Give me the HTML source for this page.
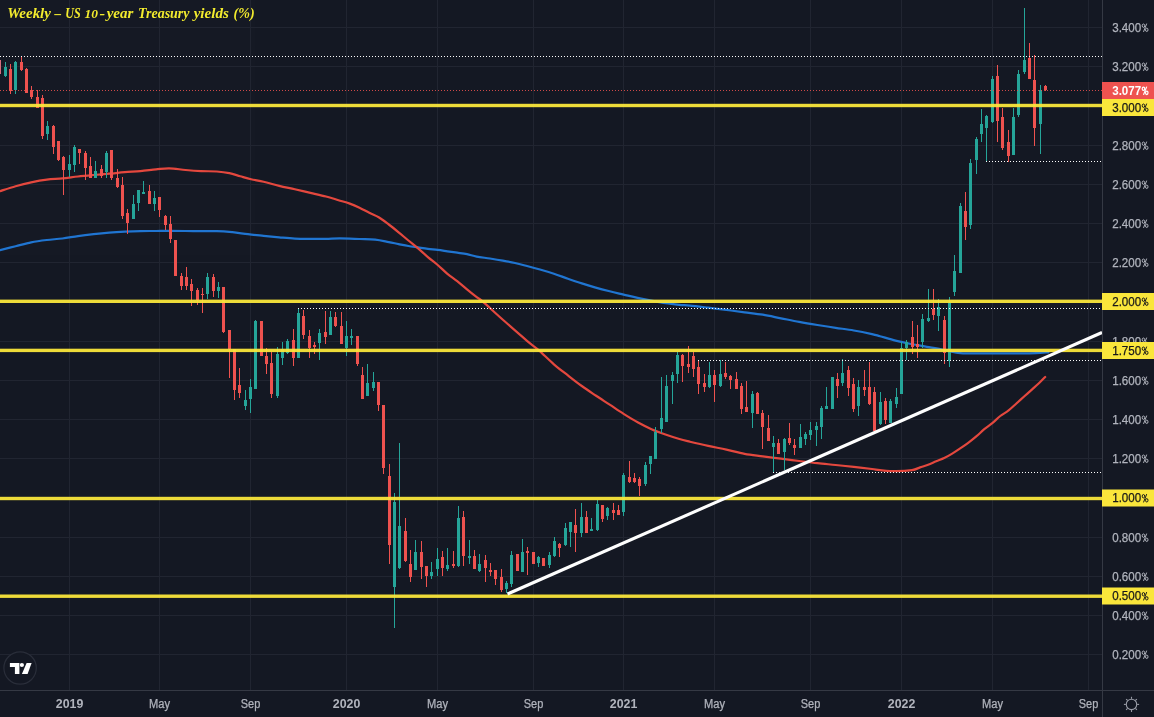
<!DOCTYPE html><html><head><meta charset="utf-8"><title>Chart</title>
<style>html,body{margin:0;padding:0;background:#151924;overflow:hidden}svg{display:block;will-change:transform;opacity:0.999}text{font-family:"Liberation Sans",sans-serif}.ttl text{font-family:"Liberation Serif",serif}</style></head><body>
<svg width="1154" height="717" viewBox="0 0 1154 717">
<rect width="1154" height="717" fill="#151924"/>
<g shape-rendering="crispEdges" fill="#222632">
<rect x="0" y="27" width="1102" height="1"/>
<rect x="0" y="66" width="1102" height="1"/>
<rect x="0" y="105" width="1102" height="1"/>
<rect x="0" y="145" width="1102" height="1"/>
<rect x="0" y="184" width="1102" height="1"/>
<rect x="0" y="223" width="1102" height="1"/>
<rect x="0" y="262" width="1102" height="1"/>
<rect x="0" y="301" width="1102" height="1"/>
<rect x="0" y="341" width="1102" height="1"/>
<rect x="0" y="380" width="1102" height="1"/>
<rect x="0" y="419" width="1102" height="1"/>
<rect x="0" y="458" width="1102" height="1"/>
<rect x="0" y="497" width="1102" height="1"/>
<rect x="0" y="537" width="1102" height="1"/>
<rect x="0" y="576" width="1102" height="1"/>
<rect x="0" y="615" width="1102" height="1"/>
<rect x="0" y="654" width="1102" height="1"/>
<rect x="69" y="0" width="1" height="690"/>
<rect x="159" y="0" width="1" height="690"/>
<rect x="250" y="0" width="1" height="690"/>
<rect x="346" y="0" width="1" height="690"/>
<rect x="437" y="0" width="1" height="690"/>
<rect x="533" y="0" width="1" height="690"/>
<rect x="623" y="0" width="1" height="690"/>
<rect x="714" y="0" width="1" height="690"/>
<rect x="810" y="0" width="1" height="690"/>
<rect x="901" y="0" width="1" height="690"/>
<rect x="992" y="0" width="1" height="690"/>
<rect x="1088" y="0" width="1" height="690"/>
</g>
<path d="M0.00 250.10 C2.60 249.45 10.40 247.50 15.60 246.20 C20.80 244.90 26.00 243.33 31.20 242.30 C36.40 241.27 41.60 240.63 46.80 240.00 C52.00 239.37 57.20 239.15 62.40 238.50 C67.60 237.85 72.80 236.82 78.00 236.10 C83.20 235.38 88.40 234.77 93.60 234.20 C98.80 233.63 104.00 233.12 109.20 232.70 C114.40 232.28 119.60 231.97 124.80 231.70 C130.00 231.43 135.20 231.22 140.40 231.10 C145.60 230.98 151.07 231.05 156.00 231.00 C160.93 230.95 163.77 230.78 170.00 230.80 C176.23 230.82 185.60 231.05 193.40 231.10 C201.20 231.15 210.30 230.92 216.80 231.10 C223.30 231.28 227.20 231.68 232.40 232.20 C237.60 232.72 242.80 233.60 248.00 234.20 C253.20 234.80 258.40 235.28 263.60 235.80 C268.80 236.32 274.00 236.83 279.20 237.30 C284.40 237.77 289.60 238.33 294.80 238.60 C300.00 238.87 305.20 238.85 310.40 238.90 C315.60 238.95 321.07 238.98 326.00 238.90 C330.93 238.82 334.42 238.38 340.00 238.40 C345.58 238.42 353.63 238.80 359.50 239.00 C365.37 239.20 370.32 239.08 375.20 239.60 C380.08 240.12 384.90 241.35 388.80 242.10 C392.70 242.85 395.33 243.45 398.60 244.10 C401.87 244.75 405.15 245.45 408.40 246.00 C411.65 246.55 414.85 246.93 418.10 247.40 C421.35 247.87 424.63 248.38 427.90 248.80 C431.17 249.22 434.45 249.48 437.70 249.90 C440.95 250.32 444.15 250.83 447.40 251.30 C450.65 251.77 453.93 252.22 457.20 252.70 C460.47 253.18 463.75 253.55 467.00 254.20 C470.25 254.85 472.87 255.88 476.70 256.60 C480.53 257.32 485.65 257.83 490.00 258.50 C494.35 259.17 498.63 259.85 502.80 260.60 C506.97 261.35 510.97 262.10 515.00 263.00 C519.03 263.90 522.83 264.92 527.00 266.00 C531.17 267.08 535.52 268.22 540.00 269.50 C544.48 270.78 549.25 272.17 553.90 273.70 C558.55 275.23 563.25 277.08 567.90 278.70 C572.55 280.32 577.17 281.92 581.80 283.40 C586.43 284.88 591.05 286.28 595.70 287.60 C600.35 288.92 605.05 290.13 609.70 291.30 C614.35 292.47 618.95 293.50 623.60 294.60 C628.25 295.70 632.95 296.88 637.60 297.90 C642.25 298.92 646.87 299.82 651.50 300.70 C656.13 301.58 660.75 302.52 665.40 303.20 C670.05 303.88 675.30 304.40 679.40 304.80 C683.50 305.20 685.20 305.12 690.00 305.60 C694.80 306.08 702.13 306.98 708.20 307.70 C714.27 308.42 720.33 309.13 726.40 309.90 C732.47 310.67 738.53 311.50 744.60 312.30 C750.67 313.10 756.73 313.70 762.80 314.70 C768.87 315.70 774.93 317.10 781.00 318.30 C787.07 319.50 793.13 320.78 799.20 321.90 C805.27 323.02 811.33 324.02 817.40 325.00 C823.47 325.98 829.53 326.88 835.60 327.80 C841.67 328.72 847.73 329.45 853.80 330.50 C859.87 331.55 867.63 333.15 872.00 334.10 C876.37 335.05 876.07 335.12 880.00 336.20 C883.93 337.28 890.40 339.30 895.60 340.60 C900.80 341.90 906.00 342.97 911.20 344.00 C916.40 345.03 921.60 345.87 926.80 346.80 C932.00 347.73 937.20 348.60 942.40 349.60 C947.60 350.60 952.80 352.17 958.00 352.80 C963.20 353.43 968.40 353.30 973.60 353.40 C978.80 353.50 984.00 353.40 989.20 353.40 C994.40 353.40 999.60 353.40 1004.80 353.40 C1010.00 353.40 1015.20 353.45 1020.40 353.40 C1025.60 353.35 1031.32 353.28 1036.00 353.10 C1040.68 352.92 1046.42 352.43 1048.50 352.30" fill="none" stroke="#2176d2" stroke-width="2.2" stroke-linejoin="round" stroke-linecap="round"/>
<path d="M0.00 191.20 C2.60 190.37 10.40 187.68 15.60 186.20 C20.80 184.72 26.00 183.40 31.20 182.30 C36.40 181.20 41.60 180.25 46.80 179.60 C52.00 178.95 57.20 178.92 62.40 178.40 C67.60 177.88 72.80 177.07 78.00 176.50 C83.20 175.93 88.40 175.47 93.60 175.00 C98.80 174.53 104.00 174.17 109.20 173.70 C114.40 173.23 119.60 172.63 124.80 172.20 C130.00 171.77 135.20 171.57 140.40 171.10 C145.60 170.63 151.20 169.87 156.00 169.40 C160.80 168.93 164.27 168.20 169.20 168.30 C174.13 168.40 180.27 169.53 185.60 170.00 C190.93 170.47 196.00 170.85 201.20 171.10 C206.40 171.35 212.12 171.17 216.80 171.50 C221.48 171.83 225.40 172.32 229.30 173.10 C233.20 173.88 236.57 175.18 240.20 176.20 C243.83 177.22 247.20 178.28 251.10 179.20 C255.00 180.12 258.92 180.58 263.60 181.70 C268.28 182.82 274.00 184.63 279.20 185.90 C284.40 187.17 289.60 188.13 294.80 189.30 C300.00 190.47 305.20 191.70 310.40 192.90 C315.60 194.10 321.32 195.28 326.00 196.50 C330.68 197.72 334.53 199.02 338.50 200.20 C342.47 201.38 346.30 202.35 349.80 203.60 C353.30 204.85 356.25 206.17 359.50 207.70 C362.75 209.23 366.03 211.17 369.30 212.80 C372.57 214.43 375.85 215.55 379.10 217.50 C382.35 219.45 385.55 222.03 388.80 224.50 C392.05 226.97 395.33 229.63 398.60 232.30 C401.87 234.97 405.15 237.82 408.40 240.50 C411.65 243.18 414.85 245.63 418.10 248.40 C421.35 251.17 424.63 254.33 427.90 257.10 C431.17 259.87 434.45 262.22 437.70 265.00 C440.95 267.78 444.15 271.10 447.40 273.80 C450.65 276.50 453.93 278.60 457.20 281.20 C460.47 283.80 463.75 286.73 467.00 289.40 C470.25 292.07 474.15 295.23 476.70 297.20 C479.25 299.17 477.65 297.18 482.30 301.20 C486.95 305.22 497.15 314.70 504.60 321.30 C512.05 327.90 521.42 336.07 527.00 340.80 C532.58 345.53 533.62 345.78 538.10 349.70 C542.58 353.62 548.93 360.02 553.90 364.30 C558.87 368.58 563.25 371.78 567.90 375.40 C572.55 379.02 577.17 382.65 581.80 386.00 C586.43 389.35 591.05 392.38 595.70 395.50 C600.35 398.62 605.05 401.63 609.70 404.70 C614.35 407.77 618.95 410.97 623.60 413.90 C628.25 416.83 632.95 419.75 637.60 422.30 C642.25 424.85 646.87 427.17 651.50 429.20 C656.13 431.23 660.75 432.87 665.40 434.50 C670.05 436.13 675.30 437.80 679.40 439.00 C683.50 440.20 685.20 440.55 690.00 441.70 C694.80 442.85 702.13 444.58 708.20 445.90 C714.27 447.22 720.33 448.28 726.40 449.60 C732.47 450.92 738.53 452.68 744.60 453.80 C750.67 454.92 756.73 455.48 762.80 456.30 C768.87 457.12 774.93 457.92 781.00 458.70 C787.07 459.48 793.13 460.25 799.20 461.00 C805.27 461.75 811.33 462.53 817.40 463.20 C823.47 463.87 829.53 464.38 835.60 465.00 C841.67 465.62 847.73 466.23 853.80 466.90 C859.87 467.57 867.63 468.47 872.00 469.00 C876.37 469.53 876.00 469.73 880.00 470.10 C884.00 470.47 890.65 471.20 896.00 471.20 C901.35 471.20 908.08 470.73 912.10 470.10 C916.12 469.47 917.43 468.28 920.10 467.40 C922.77 466.52 925.42 465.82 928.10 464.80 C930.78 463.78 933.52 462.42 936.20 461.30 C938.88 460.18 941.53 459.38 944.20 458.10 C946.87 456.82 949.53 455.22 952.20 453.60 C954.87 451.98 957.53 450.20 960.20 448.40 C962.87 446.60 965.52 444.80 968.20 442.80 C970.88 440.80 973.62 438.67 976.30 436.40 C978.98 434.13 981.63 431.42 984.30 429.20 C986.97 426.98 989.63 425.30 992.30 423.10 C994.97 420.90 997.63 418.07 1000.30 416.00 C1002.97 413.93 1005.62 412.78 1008.30 410.70 C1010.98 408.62 1013.72 405.90 1016.40 403.50 C1019.08 401.10 1021.73 398.70 1024.40 396.30 C1027.07 393.90 1029.73 391.52 1032.40 389.10 C1035.07 386.68 1038.27 383.82 1040.40 381.80 C1042.53 379.78 1044.40 377.80 1045.20 377.00" fill="none" stroke="#e5493f" stroke-width="2.2" stroke-linejoin="round" stroke-linecap="round"/>
<g shape-rendering="crispEdges">
<rect x="-1" y="58" width="1" height="17" fill="#d96f7d"/>
<rect x="-2" y="60" width="3" height="14" fill="#d96f7d"/>
<rect x="5" y="62" width="1" height="15" fill="#26a69a"/>
<rect x="4" y="67" width="3" height="9" fill="#26a69a"/>
<rect x="10" y="64" width="1" height="30" fill="#ef5350"/>
<rect x="9" y="69" width="3" height="22" fill="#ef5350"/>
<rect x="15" y="61" width="1" height="33" fill="#26a69a"/>
<rect x="14" y="62" width="3" height="28" fill="#26a69a"/>
<rect x="21" y="56" width="1" height="15" fill="#ef5350"/>
<rect x="20" y="62" width="3" height="8" fill="#ef5350"/>
<rect x="26" y="68" width="1" height="25" fill="#ef5350"/>
<rect x="25" y="69" width="3" height="24" fill="#ef5350"/>
<rect x="31" y="86" width="1" height="13" fill="#ef5350"/>
<rect x="30" y="90" width="3" height="7" fill="#ef5350"/>
<rect x="37" y="90" width="1" height="18" fill="#ef5350"/>
<rect x="36" y="97" width="3" height="11" fill="#ef5350"/>
<rect x="42" y="95" width="1" height="44" fill="#ef5350"/>
<rect x="41" y="98" width="3" height="38" fill="#ef5350"/>
<rect x="47" y="121" width="1" height="19" fill="#26a69a"/>
<rect x="46" y="126" width="3" height="8" fill="#26a69a"/>
<rect x="53" y="125" width="1" height="29" fill="#ef5350"/>
<rect x="52" y="126" width="3" height="21" fill="#ef5350"/>
<rect x="58" y="141" width="1" height="20" fill="#ef5350"/>
<rect x="57" y="141" width="3" height="19" fill="#ef5350"/>
<rect x="63" y="156" width="1" height="39" fill="#ef5350"/>
<rect x="62" y="157" width="3" height="13" fill="#ef5350"/>
<rect x="69" y="155" width="1" height="22" fill="#26a69a"/>
<rect x="68" y="164" width="3" height="6" fill="#26a69a"/>
<rect x="74" y="145" width="1" height="27" fill="#26a69a"/>
<rect x="73" y="147" width="3" height="18" fill="#26a69a"/>
<rect x="79" y="149" width="1" height="15" fill="#ef5350"/>
<rect x="78" y="149" width="3" height="4" fill="#ef5350"/>
<rect x="85" y="151" width="1" height="29" fill="#ef5350"/>
<rect x="84" y="153" width="3" height="15" fill="#ef5350"/>
<rect x="90" y="157" width="1" height="21" fill="#ef5350"/>
<rect x="89" y="166" width="3" height="12" fill="#ef5350"/>
<rect x="95" y="161" width="1" height="17" fill="#26a69a"/>
<rect x="94" y="171" width="3" height="7" fill="#26a69a"/>
<rect x="101" y="165" width="1" height="13" fill="#ef5350"/>
<rect x="100" y="169" width="3" height="7" fill="#ef5350"/>
<rect x="106" y="151" width="1" height="27" fill="#26a69a"/>
<rect x="105" y="153" width="3" height="19" fill="#26a69a"/>
<rect x="111" y="150" width="1" height="30" fill="#ef5350"/>
<rect x="110" y="150" width="3" height="28" fill="#ef5350"/>
<rect x="117" y="169" width="1" height="19" fill="#ef5350"/>
<rect x="116" y="178" width="3" height="9" fill="#ef5350"/>
<rect x="122" y="177" width="1" height="42" fill="#ef5350"/>
<rect x="121" y="185" width="3" height="31" fill="#ef5350"/>
<rect x="127" y="209" width="1" height="25" fill="#ef5350"/>
<rect x="126" y="213" width="3" height="10" fill="#ef5350"/>
<rect x="133" y="195" width="1" height="24" fill="#26a69a"/>
<rect x="132" y="204" width="3" height="15" fill="#26a69a"/>
<rect x="138" y="190" width="1" height="21" fill="#26a69a"/>
<rect x="137" y="190" width="3" height="13" fill="#26a69a"/>
<rect x="143" y="181" width="1" height="13" fill="#26a69a"/>
<rect x="142" y="192" width="3" height="2" fill="#26a69a"/>
<rect x="149" y="185" width="1" height="19" fill="#ef5350"/>
<rect x="148" y="191" width="3" height="13" fill="#ef5350"/>
<rect x="154" y="191" width="1" height="20" fill="#26a69a"/>
<rect x="153" y="198" width="3" height="6" fill="#26a69a"/>
<rect x="159" y="197" width="1" height="20" fill="#ef5350"/>
<rect x="158" y="197" width="3" height="13" fill="#ef5350"/>
<rect x="165" y="215" width="1" height="15" fill="#ef5350"/>
<rect x="164" y="216" width="3" height="9" fill="#ef5350"/>
<rect x="170" y="216" width="1" height="27" fill="#ef5350"/>
<rect x="169" y="224" width="3" height="15" fill="#ef5350"/>
<rect x="175" y="240" width="1" height="36" fill="#ef5350"/>
<rect x="174" y="240" width="3" height="36" fill="#ef5350"/>
<rect x="181" y="273" width="1" height="17" fill="#ef5350"/>
<rect x="180" y="276" width="3" height="10" fill="#ef5350"/>
<rect x="186" y="267" width="1" height="23" fill="#ef5350"/>
<rect x="185" y="277" width="3" height="9" fill="#ef5350"/>
<rect x="191" y="279" width="1" height="27" fill="#ef5350"/>
<rect x="190" y="284" width="3" height="7" fill="#ef5350"/>
<rect x="197" y="288" width="1" height="17" fill="#ef5350"/>
<rect x="196" y="290" width="3" height="10" fill="#ef5350"/>
<rect x="202" y="288" width="1" height="25" fill="#ef5350"/>
<rect x="201" y="294" width="3" height="1" fill="#ef5350"/>
<rect x="207" y="273" width="1" height="26" fill="#26a69a"/>
<rect x="206" y="277" width="3" height="17" fill="#26a69a"/>
<rect x="213" y="274" width="1" height="23" fill="#ef5350"/>
<rect x="212" y="277" width="3" height="14" fill="#ef5350"/>
<rect x="218" y="282" width="1" height="16" fill="#26a69a"/>
<rect x="217" y="287" width="3" height="4" fill="#26a69a"/>
<rect x="223" y="287" width="1" height="46" fill="#ef5350"/>
<rect x="222" y="287" width="3" height="45" fill="#ef5350"/>
<rect x="229" y="330" width="1" height="48" fill="#ef5350"/>
<rect x="228" y="330" width="3" height="19" fill="#ef5350"/>
<rect x="234" y="349" width="1" height="51" fill="#ef5350"/>
<rect x="233" y="349" width="3" height="41" fill="#ef5350"/>
<rect x="239" y="368" width="1" height="30" fill="#ef5350"/>
<rect x="238" y="385" width="3" height="8" fill="#ef5350"/>
<rect x="245" y="390" width="1" height="20" fill="#26a69a"/>
<rect x="244" y="400" width="3" height="6" fill="#26a69a"/>
<rect x="250" y="379" width="1" height="34" fill="#26a69a"/>
<rect x="249" y="387" width="3" height="12" fill="#26a69a"/>
<rect x="255" y="320" width="1" height="69" fill="#26a69a"/>
<rect x="254" y="321" width="3" height="68" fill="#26a69a"/>
<rect x="261" y="321" width="1" height="35" fill="#ef5350"/>
<rect x="260" y="321" width="3" height="35" fill="#ef5350"/>
<rect x="266" y="348" width="1" height="26" fill="#ef5350"/>
<rect x="265" y="356" width="3" height="8" fill="#ef5350"/>
<rect x="271" y="352" width="1" height="46" fill="#ef5350"/>
<rect x="270" y="363" width="3" height="31" fill="#ef5350"/>
<rect x="277" y="347" width="1" height="51" fill="#26a69a"/>
<rect x="276" y="354" width="3" height="42" fill="#26a69a"/>
<rect x="282" y="342" width="1" height="23" fill="#26a69a"/>
<rect x="281" y="349" width="3" height="9" fill="#26a69a"/>
<rect x="287" y="339" width="1" height="15" fill="#26a69a"/>
<rect x="286" y="341" width="3" height="12" fill="#26a69a"/>
<rect x="293" y="329" width="1" height="37" fill="#ef5350"/>
<rect x="292" y="340" width="3" height="18" fill="#ef5350"/>
<rect x="298" y="308" width="1" height="50" fill="#26a69a"/>
<rect x="297" y="313" width="3" height="45" fill="#26a69a"/>
<rect x="303" y="310" width="1" height="29" fill="#ef5350"/>
<rect x="302" y="316" width="3" height="19" fill="#ef5350"/>
<rect x="309" y="330" width="1" height="28" fill="#ef5350"/>
<rect x="308" y="336" width="3" height="12" fill="#ef5350"/>
<rect x="314" y="342" width="1" height="12" fill="#ef5350"/>
<rect x="313" y="345" width="3" height="2" fill="#ef5350"/>
<rect x="319" y="329" width="1" height="31" fill="#26a69a"/>
<rect x="318" y="333" width="3" height="10" fill="#26a69a"/>
<rect x="325" y="311" width="1" height="33" fill="#ef5350"/>
<rect x="324" y="332" width="3" height="5" fill="#ef5350"/>
<rect x="330" y="311" width="1" height="24" fill="#26a69a"/>
<rect x="329" y="317" width="3" height="18" fill="#26a69a"/>
<rect x="335" y="312" width="1" height="15" fill="#ef5350"/>
<rect x="334" y="317" width="3" height="9" fill="#ef5350"/>
<rect x="341" y="312" width="1" height="32" fill="#ef5350"/>
<rect x="340" y="326" width="3" height="18" fill="#ef5350"/>
<rect x="346" y="321" width="1" height="35" fill="#26a69a"/>
<rect x="345" y="336" width="3" height="12" fill="#26a69a"/>
<rect x="351" y="329" width="1" height="16" fill="#26a69a"/>
<rect x="350" y="336" width="3" height="2" fill="#26a69a"/>
<rect x="357" y="336" width="1" height="30" fill="#ef5350"/>
<rect x="356" y="336" width="3" height="28" fill="#ef5350"/>
<rect x="362" y="367" width="1" height="32" fill="#ef5350"/>
<rect x="361" y="375" width="3" height="24" fill="#ef5350"/>
<rect x="367" y="364" width="1" height="32" fill="#26a69a"/>
<rect x="366" y="383" width="3" height="13" fill="#26a69a"/>
<rect x="373" y="372" width="1" height="19" fill="#26a69a"/>
<rect x="372" y="382" width="3" height="6" fill="#26a69a"/>
<rect x="378" y="382" width="1" height="29" fill="#ef5350"/>
<rect x="377" y="382" width="3" height="23" fill="#ef5350"/>
<rect x="383" y="405" width="1" height="69" fill="#ef5350"/>
<rect x="382" y="405" width="3" height="63" fill="#ef5350"/>
<rect x="389" y="464" width="1" height="100" fill="#ef5350"/>
<rect x="388" y="476" width="3" height="69" fill="#ef5350"/>
<rect x="394" y="493" width="1" height="135" fill="#26a69a"/>
<rect x="393" y="502" width="3" height="85" fill="#26a69a"/>
<rect x="399" y="443" width="1" height="126" fill="#26a69a"/>
<rect x="398" y="526" width="3" height="42" fill="#26a69a"/>
<rect x="405" y="518" width="1" height="44" fill="#ef5350"/>
<rect x="404" y="531" width="3" height="30" fill="#ef5350"/>
<rect x="410" y="550" width="1" height="32" fill="#ef5350"/>
<rect x="409" y="564" width="3" height="13" fill="#ef5350"/>
<rect x="415" y="540" width="1" height="30" fill="#26a69a"/>
<rect x="414" y="552" width="3" height="18" fill="#26a69a"/>
<rect x="421" y="541" width="1" height="38" fill="#ef5350"/>
<rect x="420" y="552" width="3" height="15" fill="#ef5350"/>
<rect x="426" y="566" width="1" height="21" fill="#ef5350"/>
<rect x="425" y="566" width="3" height="10" fill="#ef5350"/>
<rect x="431" y="562" width="1" height="17" fill="#26a69a"/>
<rect x="430" y="572" width="3" height="4" fill="#26a69a"/>
<rect x="437" y="548" width="1" height="28" fill="#26a69a"/>
<rect x="436" y="559" width="3" height="10" fill="#26a69a"/>
<rect x="442" y="551" width="1" height="25" fill="#ef5350"/>
<rect x="441" y="557" width="3" height="11" fill="#ef5350"/>
<rect x="447" y="548" width="1" height="23" fill="#26a69a"/>
<rect x="446" y="565" width="3" height="4" fill="#26a69a"/>
<rect x="453" y="551" width="1" height="17" fill="#ef5350"/>
<rect x="452" y="564" width="3" height="2" fill="#ef5350"/>
<rect x="458" y="506" width="1" height="61" fill="#26a69a"/>
<rect x="457" y="518" width="3" height="48" fill="#26a69a"/>
<rect x="463" y="511" width="1" height="55" fill="#ef5350"/>
<rect x="462" y="517" width="3" height="39" fill="#ef5350"/>
<rect x="469" y="540" width="1" height="24" fill="#26a69a"/>
<rect x="468" y="556" width="3" height="2" fill="#26a69a"/>
<rect x="474" y="550" width="1" height="19" fill="#ef5350"/>
<rect x="473" y="556" width="3" height="13" fill="#ef5350"/>
<rect x="479" y="554" width="1" height="18" fill="#26a69a"/>
<rect x="478" y="564" width="3" height="7" fill="#26a69a"/>
<rect x="485" y="555" width="1" height="27" fill="#ef5350"/>
<rect x="484" y="560" width="3" height="8" fill="#ef5350"/>
<rect x="490" y="563" width="1" height="13" fill="#ef5350"/>
<rect x="489" y="570" width="3" height="2" fill="#ef5350"/>
<rect x="495" y="570" width="1" height="15" fill="#ef5350"/>
<rect x="494" y="570" width="3" height="9" fill="#ef5350"/>
<rect x="501" y="569" width="1" height="23" fill="#ef5350"/>
<rect x="500" y="577" width="3" height="13" fill="#ef5350"/>
<rect x="506" y="581" width="1" height="12" fill="#26a69a"/>
<rect x="505" y="583" width="3" height="6" fill="#26a69a"/>
<rect x="511" y="551" width="1" height="36" fill="#26a69a"/>
<rect x="510" y="555" width="3" height="29" fill="#26a69a"/>
<rect x="517" y="554" width="1" height="17" fill="#ef5350"/>
<rect x="516" y="554" width="3" height="17" fill="#ef5350"/>
<rect x="522" y="539" width="1" height="33" fill="#26a69a"/>
<rect x="521" y="552" width="3" height="20" fill="#26a69a"/>
<rect x="527" y="547" width="1" height="28" fill="#ef5350"/>
<rect x="526" y="551" width="3" height="2" fill="#ef5350"/>
<rect x="533" y="552" width="1" height="12" fill="#ef5350"/>
<rect x="532" y="552" width="3" height="12" fill="#ef5350"/>
<rect x="538" y="556" width="1" height="11" fill="#26a69a"/>
<rect x="537" y="557" width="3" height="6" fill="#26a69a"/>
<rect x="543" y="558" width="1" height="8" fill="#ef5350"/>
<rect x="542" y="558" width="3" height="8" fill="#ef5350"/>
<rect x="549" y="552" width="1" height="16" fill="#26a69a"/>
<rect x="548" y="555" width="3" height="10" fill="#26a69a"/>
<rect x="554" y="537" width="1" height="20" fill="#26a69a"/>
<rect x="553" y="541" width="3" height="15" fill="#26a69a"/>
<rect x="559" y="543" width="1" height="14" fill="#ef5350"/>
<rect x="558" y="544" width="3" height="4" fill="#ef5350"/>
<rect x="565" y="523" width="1" height="23" fill="#26a69a"/>
<rect x="564" y="528" width="3" height="17" fill="#26a69a"/>
<rect x="570" y="522" width="1" height="25" fill="#26a69a"/>
<rect x="569" y="522" width="3" height="10" fill="#26a69a"/>
<rect x="575" y="509" width="1" height="43" fill="#ef5350"/>
<rect x="574" y="525" width="3" height="8" fill="#ef5350"/>
<rect x="581" y="503" width="1" height="34" fill="#26a69a"/>
<rect x="580" y="517" width="3" height="16" fill="#26a69a"/>
<rect x="586" y="511" width="1" height="22" fill="#ef5350"/>
<rect x="585" y="517" width="3" height="16" fill="#ef5350"/>
<rect x="591" y="518" width="1" height="13" fill="#26a69a"/>
<rect x="590" y="529" width="3" height="2" fill="#26a69a"/>
<rect x="597" y="500" width="1" height="31" fill="#26a69a"/>
<rect x="596" y="504" width="3" height="26" fill="#26a69a"/>
<rect x="602" y="505" width="1" height="17" fill="#ef5350"/>
<rect x="601" y="505" width="3" height="14" fill="#ef5350"/>
<rect x="607" y="507" width="1" height="13" fill="#26a69a"/>
<rect x="606" y="508" width="3" height="8" fill="#26a69a"/>
<rect x="613" y="503" width="1" height="17" fill="#ef5350"/>
<rect x="612" y="510" width="3" height="3" fill="#ef5350"/>
<rect x="618" y="505" width="1" height="10" fill="#ef5350"/>
<rect x="617" y="510" width="3" height="5" fill="#ef5350"/>
<rect x="623" y="473" width="1" height="43" fill="#26a69a"/>
<rect x="622" y="475" width="3" height="37" fill="#26a69a"/>
<rect x="629" y="461" width="1" height="22" fill="#ef5350"/>
<rect x="628" y="477" width="3" height="5" fill="#ef5350"/>
<rect x="634" y="473" width="1" height="10" fill="#ef5350"/>
<rect x="633" y="478" width="3" height="4" fill="#ef5350"/>
<rect x="639" y="477" width="1" height="19" fill="#ef5350"/>
<rect x="638" y="479" width="3" height="7" fill="#ef5350"/>
<rect x="645" y="462" width="1" height="24" fill="#26a69a"/>
<rect x="644" y="465" width="3" height="19" fill="#26a69a"/>
<rect x="650" y="456" width="1" height="18" fill="#26a69a"/>
<rect x="649" y="456" width="3" height="8" fill="#26a69a"/>
<rect x="655" y="427" width="1" height="32" fill="#26a69a"/>
<rect x="654" y="432" width="3" height="27" fill="#26a69a"/>
<rect x="661" y="377" width="1" height="56" fill="#26a69a"/>
<rect x="660" y="418" width="3" height="11" fill="#26a69a"/>
<rect x="666" y="375" width="1" height="47" fill="#26a69a"/>
<rect x="665" y="386" width="3" height="36" fill="#26a69a"/>
<rect x="672" y="372" width="1" height="32" fill="#26a69a"/>
<rect x="671" y="375" width="3" height="6" fill="#26a69a"/>
<rect x="677" y="352" width="1" height="31" fill="#26a69a"/>
<rect x="676" y="355" width="3" height="19" fill="#26a69a"/>
<rect x="682" y="354" width="1" height="28" fill="#ef5350"/>
<rect x="681" y="355" width="3" height="11" fill="#ef5350"/>
<rect x="688" y="346" width="1" height="27" fill="#ef5350"/>
<rect x="687" y="364" width="3" height="3" fill="#ef5350"/>
<rect x="693" y="352" width="1" height="25" fill="#ef5350"/>
<rect x="692" y="356" width="3" height="13" fill="#ef5350"/>
<rect x="698" y="361" width="1" height="33" fill="#ef5350"/>
<rect x="697" y="367" width="3" height="17" fill="#ef5350"/>
<rect x="704" y="374" width="1" height="18" fill="#ef5350"/>
<rect x="703" y="383" width="3" height="4" fill="#ef5350"/>
<rect x="709" y="362" width="1" height="26" fill="#26a69a"/>
<rect x="708" y="375" width="3" height="12" fill="#26a69a"/>
<rect x="714" y="370" width="1" height="32" fill="#ef5350"/>
<rect x="713" y="375" width="3" height="10" fill="#ef5350"/>
<rect x="720" y="360" width="1" height="27" fill="#26a69a"/>
<rect x="719" y="374" width="3" height="12" fill="#26a69a"/>
<rect x="725" y="362" width="1" height="17" fill="#ef5350"/>
<rect x="724" y="373" width="3" height="4" fill="#ef5350"/>
<rect x="730" y="375" width="1" height="14" fill="#ef5350"/>
<rect x="729" y="376" width="3" height="4" fill="#ef5350"/>
<rect x="736" y="372" width="1" height="17" fill="#ef5350"/>
<rect x="735" y="379" width="3" height="10" fill="#ef5350"/>
<rect x="741" y="383" width="1" height="31" fill="#ef5350"/>
<rect x="740" y="386" width="3" height="23" fill="#ef5350"/>
<rect x="746" y="381" width="1" height="31" fill="#ef5350"/>
<rect x="745" y="407" width="3" height="5" fill="#ef5350"/>
<rect x="752" y="391" width="1" height="37" fill="#26a69a"/>
<rect x="751" y="394" width="3" height="19" fill="#26a69a"/>
<rect x="757" y="392" width="1" height="22" fill="#ef5350"/>
<rect x="756" y="393" width="3" height="21" fill="#ef5350"/>
<rect x="762" y="410" width="1" height="39" fill="#ef5350"/>
<rect x="761" y="413" width="3" height="14" fill="#ef5350"/>
<rect x="768" y="415" width="1" height="26" fill="#ef5350"/>
<rect x="767" y="428" width="3" height="13" fill="#ef5350"/>
<rect x="773" y="436" width="1" height="36" fill="#26a69a"/>
<rect x="772" y="443" width="3" height="4" fill="#26a69a"/>
<rect x="778" y="439" width="1" height="15" fill="#ef5350"/>
<rect x="777" y="443" width="3" height="11" fill="#ef5350"/>
<rect x="784" y="438" width="1" height="32" fill="#26a69a"/>
<rect x="783" y="439" width="3" height="13" fill="#26a69a"/>
<rect x="789" y="423" width="1" height="22" fill="#ef5350"/>
<rect x="788" y="438" width="3" height="5" fill="#ef5350"/>
<rect x="794" y="439" width="1" height="16" fill="#ef5350"/>
<rect x="793" y="445" width="3" height="3" fill="#ef5350"/>
<rect x="800" y="424" width="1" height="24" fill="#26a69a"/>
<rect x="799" y="437" width="3" height="11" fill="#26a69a"/>
<rect x="805" y="432" width="1" height="13" fill="#26a69a"/>
<rect x="804" y="434" width="3" height="5" fill="#26a69a"/>
<rect x="810" y="422" width="1" height="18" fill="#26a69a"/>
<rect x="809" y="430" width="3" height="5" fill="#26a69a"/>
<rect x="816" y="422" width="1" height="24" fill="#26a69a"/>
<rect x="815" y="426" width="3" height="4" fill="#26a69a"/>
<rect x="821" y="406" width="1" height="33" fill="#26a69a"/>
<rect x="820" y="408" width="3" height="19" fill="#26a69a"/>
<rect x="826" y="387" width="1" height="22" fill="#26a69a"/>
<rect x="825" y="406" width="3" height="3" fill="#26a69a"/>
<rect x="832" y="377" width="1" height="32" fill="#26a69a"/>
<rect x="831" y="377" width="3" height="32" fill="#26a69a"/>
<rect x="837" y="373" width="1" height="25" fill="#ef5350"/>
<rect x="836" y="379" width="3" height="7" fill="#ef5350"/>
<rect x="842" y="359" width="1" height="27" fill="#26a69a"/>
<rect x="841" y="373" width="3" height="10" fill="#26a69a"/>
<rect x="848" y="366" width="1" height="30" fill="#ef5350"/>
<rect x="847" y="370" width="3" height="18" fill="#ef5350"/>
<rect x="853" y="378" width="1" height="34" fill="#ef5350"/>
<rect x="852" y="384" width="3" height="25" fill="#ef5350"/>
<rect x="858" y="380" width="1" height="36" fill="#26a69a"/>
<rect x="857" y="387" width="3" height="19" fill="#26a69a"/>
<rect x="864" y="370" width="1" height="26" fill="#ef5350"/>
<rect x="863" y="387" width="3" height="3" fill="#ef5350"/>
<rect x="869" y="362" width="1" height="43" fill="#ef5350"/>
<rect x="868" y="387" width="3" height="17" fill="#ef5350"/>
<rect x="874" y="387" width="1" height="44" fill="#ef5350"/>
<rect x="873" y="392" width="3" height="39" fill="#ef5350"/>
<rect x="880" y="392" width="1" height="33" fill="#26a69a"/>
<rect x="879" y="402" width="3" height="22" fill="#26a69a"/>
<rect x="885" y="398" width="1" height="26" fill="#ef5350"/>
<rect x="884" y="401" width="3" height="19" fill="#ef5350"/>
<rect x="890" y="399" width="1" height="24" fill="#26a69a"/>
<rect x="889" y="401" width="3" height="22" fill="#26a69a"/>
<rect x="896" y="388" width="1" height="20" fill="#26a69a"/>
<rect x="895" y="397" width="3" height="7" fill="#26a69a"/>
<rect x="901" y="342" width="1" height="52" fill="#26a69a"/>
<rect x="900" y="348" width="3" height="46" fill="#26a69a"/>
<rect x="906" y="340" width="1" height="20" fill="#26a69a"/>
<rect x="905" y="342" width="3" height="6" fill="#26a69a"/>
<rect x="912" y="321" width="1" height="33" fill="#ef5350"/>
<rect x="911" y="337" width="3" height="10" fill="#ef5350"/>
<rect x="917" y="325" width="1" height="33" fill="#ef5350"/>
<rect x="916" y="344" width="3" height="3" fill="#ef5350"/>
<rect x="922" y="314" width="1" height="34" fill="#26a69a"/>
<rect x="921" y="319" width="3" height="23" fill="#26a69a"/>
<rect x="928" y="289" width="1" height="33" fill="#26a69a"/>
<rect x="927" y="318" width="3" height="3" fill="#26a69a"/>
<rect x="933" y="289" width="1" height="31" fill="#ef5350"/>
<rect x="932" y="309" width="3" height="6" fill="#ef5350"/>
<rect x="938" y="299" width="1" height="32" fill="#26a69a"/>
<rect x="937" y="307" width="3" height="9" fill="#26a69a"/>
<rect x="944" y="316" width="1" height="48" fill="#ef5350"/>
<rect x="943" y="320" width="3" height="33" fill="#ef5350"/>
<rect x="949" y="297" width="1" height="70" fill="#26a69a"/>
<rect x="948" y="303" width="3" height="58" fill="#26a69a"/>
<rect x="954" y="255" width="1" height="41" fill="#26a69a"/>
<rect x="953" y="271" width="3" height="21" fill="#26a69a"/>
<rect x="960" y="203" width="1" height="70" fill="#26a69a"/>
<rect x="959" y="206" width="3" height="67" fill="#26a69a"/>
<rect x="965" y="192" width="1" height="48" fill="#ef5350"/>
<rect x="964" y="211" width="3" height="16" fill="#ef5350"/>
<rect x="970" y="159" width="1" height="70" fill="#26a69a"/>
<rect x="969" y="163" width="3" height="62" fill="#26a69a"/>
<rect x="976" y="137" width="1" height="37" fill="#26a69a"/>
<rect x="975" y="139" width="3" height="21" fill="#26a69a"/>
<rect x="981" y="109" width="1" height="33" fill="#26a69a"/>
<rect x="980" y="124" width="3" height="10" fill="#26a69a"/>
<rect x="986" y="115" width="1" height="46" fill="#26a69a"/>
<rect x="985" y="116" width="3" height="12" fill="#26a69a"/>
<rect x="992" y="76" width="1" height="47" fill="#26a69a"/>
<rect x="991" y="79" width="3" height="43" fill="#26a69a"/>
<rect x="997" y="65" width="1" height="77" fill="#ef5350"/>
<rect x="996" y="76" width="3" height="45" fill="#ef5350"/>
<rect x="1002" y="108" width="1" height="42" fill="#ef5350"/>
<rect x="1001" y="117" width="3" height="31" fill="#ef5350"/>
<rect x="1008" y="130" width="1" height="32" fill="#ef5350"/>
<rect x="1007" y="142" width="3" height="14" fill="#ef5350"/>
<rect x="1013" y="108" width="1" height="47" fill="#26a69a"/>
<rect x="1012" y="117" width="3" height="38" fill="#26a69a"/>
<rect x="1018" y="70" width="1" height="47" fill="#26a69a"/>
<rect x="1017" y="74" width="3" height="41" fill="#26a69a"/>
<rect x="1024" y="8" width="1" height="66" fill="#26a69a"/>
<rect x="1023" y="60" width="3" height="12" fill="#26a69a"/>
<rect x="1029" y="43" width="1" height="36" fill="#ef5350"/>
<rect x="1028" y="58" width="3" height="21" fill="#ef5350"/>
<rect x="1034" y="55" width="1" height="91" fill="#ef5350"/>
<rect x="1033" y="80" width="3" height="48" fill="#ef5350"/>
<rect x="1040" y="85" width="1" height="69" fill="#26a69a"/>
<rect x="1039" y="90" width="3" height="34" fill="#26a69a"/>
<rect x="1045" y="85" width="1" height="6" fill="#ef5350"/>
<rect x="1044" y="86" width="3" height="4" fill="#ef5350"/>
</g>
<line x1="0" y1="56.5" x2="1102" y2="56.5" stroke="#ffffff" stroke-width="1" stroke-dasharray="1 2" shape-rendering="crispEdges" opacity="1"/>
<line x1="0" y1="90.5" x2="1102" y2="90.5" stroke="#ef5350" stroke-width="1" stroke-dasharray="1 2" shape-rendering="crispEdges" opacity="0.85"/>
<line x1="986" y1="161.5" x2="1102" y2="161.5" stroke="#ffffff" stroke-width="1" stroke-dasharray="1 2" shape-rendering="crispEdges" opacity="1"/>
<line x1="298" y1="308.5" x2="1102" y2="308.5" stroke="#ffffff" stroke-width="1" stroke-dasharray="1 2" shape-rendering="crispEdges" opacity="1"/>
<line x1="698" y1="360.5" x2="1102" y2="360.5" stroke="#ffffff" stroke-width="1" stroke-dasharray="1 2" shape-rendering="crispEdges" opacity="1"/>
<line x1="773" y1="472.5" x2="1102" y2="472.5" stroke="#ffffff" stroke-width="1" stroke-dasharray="1 2" shape-rendering="crispEdges" opacity="1"/>
<rect x="0" y="103.8" width="1102" height="3.4" fill="#fbe73c" opacity="0.95"/>
<rect x="0" y="299.6" width="1102" height="3.4" fill="#fbe73c" opacity="0.95"/>
<rect x="0" y="348.7" width="1102" height="3.4" fill="#fbe73c" opacity="0.95"/>
<rect x="0" y="496.8" width="1102" height="3.4" fill="#fbe73c" opacity="0.95"/>
<rect x="0" y="594.5" width="1102" height="3.4" fill="#fbe73c" opacity="0.95"/>
<line x1="507.5" y1="594.0" x2="1102" y2="332.5" stroke="#ffffff" stroke-width="3.1"/>
<rect x="1102" y="0" width="52" height="717" fill="#151924"/>
<rect x="0" y="690" width="1154" height="27" fill="#151924"/>
<g shape-rendering="crispEdges" fill="#363a45"><rect x="1102" y="0" width="1" height="717"/><rect x="0" y="690" width="1154" height="1"/></g>
<g font-size="12" fill="#b2b5be" stroke="#b2b5be" stroke-width="0.25" ><text x="1112.2" y="31.8" textLength="29" lengthAdjust="spacingAndGlyphs">3.400</text></g>
<g fill="none" stroke="#b2b5be" stroke-width="1.0"><ellipse cx="1143.45" cy="25.70" rx="1.25" ry="1.7"/><ellipse cx="1146.75" cy="29.80" rx="1.25" ry="1.7"/><line x1="1146.70" y1="23.60" x2="1143.50" y2="31.90"/></g>
<g font-size="12" fill="#b2b5be" stroke="#b2b5be" stroke-width="0.25" ><text x="1112.2" y="70.8" textLength="29" lengthAdjust="spacingAndGlyphs">3.200</text></g>
<g fill="none" stroke="#b2b5be" stroke-width="1.0"><ellipse cx="1143.45" cy="64.70" rx="1.25" ry="1.7"/><ellipse cx="1146.75" cy="68.80" rx="1.25" ry="1.7"/><line x1="1146.70" y1="62.60" x2="1143.50" y2="70.90"/></g>
<g font-size="12" fill="#b2b5be" stroke="#b2b5be" stroke-width="0.25" ><text x="1112.2" y="149.8" textLength="29" lengthAdjust="spacingAndGlyphs">2.800</text></g>
<g fill="none" stroke="#b2b5be" stroke-width="1.0"><ellipse cx="1143.45" cy="143.70" rx="1.25" ry="1.7"/><ellipse cx="1146.75" cy="147.80" rx="1.25" ry="1.7"/><line x1="1146.70" y1="141.60" x2="1143.50" y2="149.90"/></g>
<g font-size="12" fill="#b2b5be" stroke="#b2b5be" stroke-width="0.25" ><text x="1112.2" y="188.8" textLength="29" lengthAdjust="spacingAndGlyphs">2.600</text></g>
<g fill="none" stroke="#b2b5be" stroke-width="1.0"><ellipse cx="1143.45" cy="182.70" rx="1.25" ry="1.7"/><ellipse cx="1146.75" cy="186.80" rx="1.25" ry="1.7"/><line x1="1146.70" y1="180.60" x2="1143.50" y2="188.90"/></g>
<g font-size="12" fill="#b2b5be" stroke="#b2b5be" stroke-width="0.25" ><text x="1112.2" y="227.8" textLength="29" lengthAdjust="spacingAndGlyphs">2.400</text></g>
<g fill="none" stroke="#b2b5be" stroke-width="1.0"><ellipse cx="1143.45" cy="221.70" rx="1.25" ry="1.7"/><ellipse cx="1146.75" cy="225.80" rx="1.25" ry="1.7"/><line x1="1146.70" y1="219.60" x2="1143.50" y2="227.90"/></g>
<g font-size="12" fill="#b2b5be" stroke="#b2b5be" stroke-width="0.25" ><text x="1112.2" y="266.8" textLength="29" lengthAdjust="spacingAndGlyphs">2.200</text></g>
<g fill="none" stroke="#b2b5be" stroke-width="1.0"><ellipse cx="1143.45" cy="260.70" rx="1.25" ry="1.7"/><ellipse cx="1146.75" cy="264.80" rx="1.25" ry="1.7"/><line x1="1146.70" y1="258.60" x2="1143.50" y2="266.90"/></g>
<g font-size="12" fill="#b2b5be" stroke="#b2b5be" stroke-width="0.25" ><text x="1112.2" y="345.8" textLength="29" lengthAdjust="spacingAndGlyphs">1.800</text></g>
<g fill="none" stroke="#b2b5be" stroke-width="1.0"><ellipse cx="1143.45" cy="339.70" rx="1.25" ry="1.7"/><ellipse cx="1146.75" cy="343.80" rx="1.25" ry="1.7"/><line x1="1146.70" y1="337.60" x2="1143.50" y2="345.90"/></g>
<g font-size="12" fill="#b2b5be" stroke="#b2b5be" stroke-width="0.25" ><text x="1112.2" y="384.8" textLength="29" lengthAdjust="spacingAndGlyphs">1.600</text></g>
<g fill="none" stroke="#b2b5be" stroke-width="1.0"><ellipse cx="1143.45" cy="378.70" rx="1.25" ry="1.7"/><ellipse cx="1146.75" cy="382.80" rx="1.25" ry="1.7"/><line x1="1146.70" y1="376.60" x2="1143.50" y2="384.90"/></g>
<g font-size="12" fill="#b2b5be" stroke="#b2b5be" stroke-width="0.25" ><text x="1112.2" y="423.8" textLength="29" lengthAdjust="spacingAndGlyphs">1.400</text></g>
<g fill="none" stroke="#b2b5be" stroke-width="1.0"><ellipse cx="1143.45" cy="417.70" rx="1.25" ry="1.7"/><ellipse cx="1146.75" cy="421.80" rx="1.25" ry="1.7"/><line x1="1146.70" y1="415.60" x2="1143.50" y2="423.90"/></g>
<g font-size="12" fill="#b2b5be" stroke="#b2b5be" stroke-width="0.25" ><text x="1112.2" y="462.8" textLength="29" lengthAdjust="spacingAndGlyphs">1.200</text></g>
<g fill="none" stroke="#b2b5be" stroke-width="1.0"><ellipse cx="1143.45" cy="456.70" rx="1.25" ry="1.7"/><ellipse cx="1146.75" cy="460.80" rx="1.25" ry="1.7"/><line x1="1146.70" y1="454.60" x2="1143.50" y2="462.90"/></g>
<g font-size="12" fill="#b2b5be" stroke="#b2b5be" stroke-width="0.25" ><text x="1112.2" y="541.8" textLength="29" lengthAdjust="spacingAndGlyphs">0.800</text></g>
<g fill="none" stroke="#b2b5be" stroke-width="1.0"><ellipse cx="1143.45" cy="535.70" rx="1.25" ry="1.7"/><ellipse cx="1146.75" cy="539.80" rx="1.25" ry="1.7"/><line x1="1146.70" y1="533.60" x2="1143.50" y2="541.90"/></g>
<g font-size="12" fill="#b2b5be" stroke="#b2b5be" stroke-width="0.25" ><text x="1112.2" y="580.8" textLength="29" lengthAdjust="spacingAndGlyphs">0.600</text></g>
<g fill="none" stroke="#b2b5be" stroke-width="1.0"><ellipse cx="1143.45" cy="574.70" rx="1.25" ry="1.7"/><ellipse cx="1146.75" cy="578.80" rx="1.25" ry="1.7"/><line x1="1146.70" y1="572.60" x2="1143.50" y2="580.90"/></g>
<g font-size="12" fill="#b2b5be" stroke="#b2b5be" stroke-width="0.25" ><text x="1112.2" y="619.8" textLength="29" lengthAdjust="spacingAndGlyphs">0.400</text></g>
<g fill="none" stroke="#b2b5be" stroke-width="1.0"><ellipse cx="1143.45" cy="613.70" rx="1.25" ry="1.7"/><ellipse cx="1146.75" cy="617.80" rx="1.25" ry="1.7"/><line x1="1146.70" y1="611.60" x2="1143.50" y2="619.90"/></g>
<g font-size="12" fill="#b2b5be" stroke="#b2b5be" stroke-width="0.25" ><text x="1112.2" y="658.8" textLength="29" lengthAdjust="spacingAndGlyphs">0.200</text></g>
<g fill="none" stroke="#b2b5be" stroke-width="1.0"><ellipse cx="1143.45" cy="652.70" rx="1.25" ry="1.7"/><ellipse cx="1146.75" cy="656.80" rx="1.25" ry="1.7"/><line x1="1146.70" y1="650.60" x2="1143.50" y2="658.90"/></g>
<rect x="1102" y="293.0" width="52" height="17" fill="#fbe73c"/>
<g font-size="12" fill="#1a1a1a" stroke="#1a1a1a" stroke-width="0.25" ><text x="1112.2" y="305.8" textLength="29" lengthAdjust="spacingAndGlyphs">2.000</text></g>
<g fill="none" stroke="#1a1a1a" stroke-width="1.0"><ellipse cx="1143.45" cy="299.70" rx="1.25" ry="1.7"/><ellipse cx="1146.75" cy="303.80" rx="1.25" ry="1.7"/><line x1="1146.70" y1="297.60" x2="1143.50" y2="305.90"/></g>
<rect x="1102" y="342.0" width="52" height="17" fill="#fbe73c"/>
<g font-size="12" fill="#1a1a1a" stroke="#1a1a1a" stroke-width="0.25" ><text x="1112.2" y="354.8" textLength="29" lengthAdjust="spacingAndGlyphs">1.750</text></g>
<g fill="none" stroke="#1a1a1a" stroke-width="1.0"><ellipse cx="1143.45" cy="348.70" rx="1.25" ry="1.7"/><ellipse cx="1146.75" cy="352.80" rx="1.25" ry="1.7"/><line x1="1146.70" y1="346.60" x2="1143.50" y2="354.90"/></g>
<rect x="1102" y="489.5" width="52" height="17" fill="#fbe73c"/>
<g font-size="12" fill="#1a1a1a" stroke="#1a1a1a" stroke-width="0.25" ><text x="1112.2" y="502.3" textLength="29" lengthAdjust="spacingAndGlyphs">1.000</text></g>
<g fill="none" stroke="#1a1a1a" stroke-width="1.0"><ellipse cx="1143.45" cy="496.20" rx="1.25" ry="1.7"/><ellipse cx="1146.75" cy="500.30" rx="1.25" ry="1.7"/><line x1="1146.70" y1="494.10" x2="1143.50" y2="502.40"/></g>
<rect x="1102" y="587.5" width="52" height="17" fill="#fbe73c"/>
<g font-size="12" fill="#1a1a1a" stroke="#1a1a1a" stroke-width="0.25" ><text x="1112.2" y="600.3" textLength="29" lengthAdjust="spacingAndGlyphs">0.500</text></g>
<g fill="none" stroke="#1a1a1a" stroke-width="1.0"><ellipse cx="1143.45" cy="594.20" rx="1.25" ry="1.7"/><ellipse cx="1146.75" cy="598.30" rx="1.25" ry="1.7"/><line x1="1146.70" y1="592.10" x2="1143.50" y2="600.40"/></g>
<rect x="1102" y="99.0" width="52" height="17" fill="#fbe73c"/>
<g font-size="12" fill="#1a1a1a" stroke="#1a1a1a" stroke-width="0.25" ><text x="1112.2" y="111.8" textLength="29" lengthAdjust="spacingAndGlyphs">3.000</text></g>
<g fill="none" stroke="#1a1a1a" stroke-width="1.0"><ellipse cx="1143.45" cy="105.70" rx="1.25" ry="1.7"/><ellipse cx="1146.75" cy="109.80" rx="1.25" ry="1.7"/><line x1="1146.70" y1="103.60" x2="1143.50" y2="111.90"/></g>
<rect x="1102" y="82.0" width="52" height="17" fill="#ef5350"/>
<g font-size="12" fill="#ffffff" stroke="#ffffff" stroke-width="0.0" font-weight="bold"><text x="1112.2" y="94.8" textLength="29" lengthAdjust="spacingAndGlyphs">3.077</text></g>
<g fill="none" stroke="#ffffff" stroke-width="1.25"><ellipse cx="1143.45" cy="88.70" rx="1.25" ry="1.7"/><ellipse cx="1146.75" cy="92.80" rx="1.25" ry="1.7"/><line x1="1146.70" y1="86.60" x2="1143.50" y2="94.90"/></g>
<text x="55.8" y="708.3" font-size="12" fill="#b2b5be" font-weight="bold" textLength="27.5" lengthAdjust="spacingAndGlyphs">2019</text>
<text x="149.0" y="708.3" font-size="12" fill="#b2b5be" stroke="#b2b5be" stroke-width="0.25" textLength="21" lengthAdjust="spacingAndGlyphs">May</text>
<text x="240.8" y="708.3" font-size="12" fill="#b2b5be" stroke="#b2b5be" stroke-width="0.25" textLength="19.5" lengthAdjust="spacingAndGlyphs">Sep</text>
<text x="332.8" y="708.3" font-size="12" fill="#b2b5be" font-weight="bold" textLength="27.5" lengthAdjust="spacingAndGlyphs">2020</text>
<text x="427.0" y="708.3" font-size="12" fill="#b2b5be" stroke="#b2b5be" stroke-width="0.25" textLength="21" lengthAdjust="spacingAndGlyphs">May</text>
<text x="523.8" y="708.3" font-size="12" fill="#b2b5be" stroke="#b2b5be" stroke-width="0.25" textLength="19.5" lengthAdjust="spacingAndGlyphs">Sep</text>
<text x="609.8" y="708.3" font-size="12" fill="#b2b5be" font-weight="bold" textLength="27.5" lengthAdjust="spacingAndGlyphs">2021</text>
<text x="704.0" y="708.3" font-size="12" fill="#b2b5be" stroke="#b2b5be" stroke-width="0.25" textLength="21" lengthAdjust="spacingAndGlyphs">May</text>
<text x="800.8" y="708.3" font-size="12" fill="#b2b5be" stroke="#b2b5be" stroke-width="0.25" textLength="19.5" lengthAdjust="spacingAndGlyphs">Sep</text>
<text x="887.8" y="708.3" font-size="12" fill="#b2b5be" font-weight="bold" textLength="27.5" lengthAdjust="spacingAndGlyphs">2022</text>
<text x="982.0" y="708.3" font-size="12" fill="#b2b5be" stroke="#b2b5be" stroke-width="0.25" textLength="21" lengthAdjust="spacingAndGlyphs">May</text>
<text x="1078.8" y="708.3" font-size="12" fill="#b2b5be" stroke="#b2b5be" stroke-width="0.25" textLength="19.5" lengthAdjust="spacingAndGlyphs">Sep</text>
<g font-weight="bold" font-style="italic" fill="#f4ed2f" class="ttl">
<text x="7.2" y="18.2" font-size="15" textLength="43.7" lengthAdjust="spacingAndGlyphs">Weekly</text>
<text x="54.5" y="18.2" font-size="15" textLength="6.6" lengthAdjust="spacingAndGlyphs">–</text>
<text x="65.3" y="18.2" font-size="15" textLength="15.4" lengthAdjust="spacingAndGlyphs">US</text>
<text x="84.5" y="18.2" font-size="12" textLength="13.4" lengthAdjust="spacingAndGlyphs">10</text>
<text x="99.6" y="18.2" font-size="15" textLength="5.6" lengthAdjust="spacingAndGlyphs">-</text>
<text x="106.7" y="18.2" font-size="15" textLength="26.6" lengthAdjust="spacingAndGlyphs">year</text>
<text x="138.0" y="18.2" font-size="15" textLength="51.5" lengthAdjust="spacingAndGlyphs">Treasury</text>
<text x="193.7" y="18.2" font-size="15" textLength="35.1" lengthAdjust="spacingAndGlyphs">yields</text>
<text x="233.5" y="18.2" font-size="15" textLength="21.1" lengthAdjust="spacingAndGlyphs">(%)</text>
</g>
<circle cx="20.1" cy="668" r="16.2" fill="#151924" stroke="#2b2f3b" stroke-width="1.2"/>
<g fill="#ffffff"><path d="M9.9 663H19.4V674H14.9V667H9.9Z"/><circle cx="21.9" cy="665" r="2.1"/><path d="M26.6 663H31.6L27.6 674H21.9Z"/></g>
<g stroke="#9a9da7" stroke-width="1.1" fill="none"><circle cx="1131.5" cy="704.4" r="5.2"/>
<line x1="1137.10" y1="704.40" x2="1139.10" y2="704.40"/>
<line x1="1135.46" y1="708.36" x2="1136.87" y2="709.77"/>
<line x1="1131.50" y1="710.00" x2="1131.50" y2="712.00"/>
<line x1="1127.54" y1="708.36" x2="1126.13" y2="709.77"/>
<line x1="1125.90" y1="704.40" x2="1123.90" y2="704.40"/>
<line x1="1127.54" y1="700.44" x2="1126.13" y2="699.03"/>
<line x1="1131.50" y1="698.80" x2="1131.50" y2="696.80"/>
<line x1="1135.46" y1="700.44" x2="1136.87" y2="699.03"/>
</g>
</svg></body></html>
